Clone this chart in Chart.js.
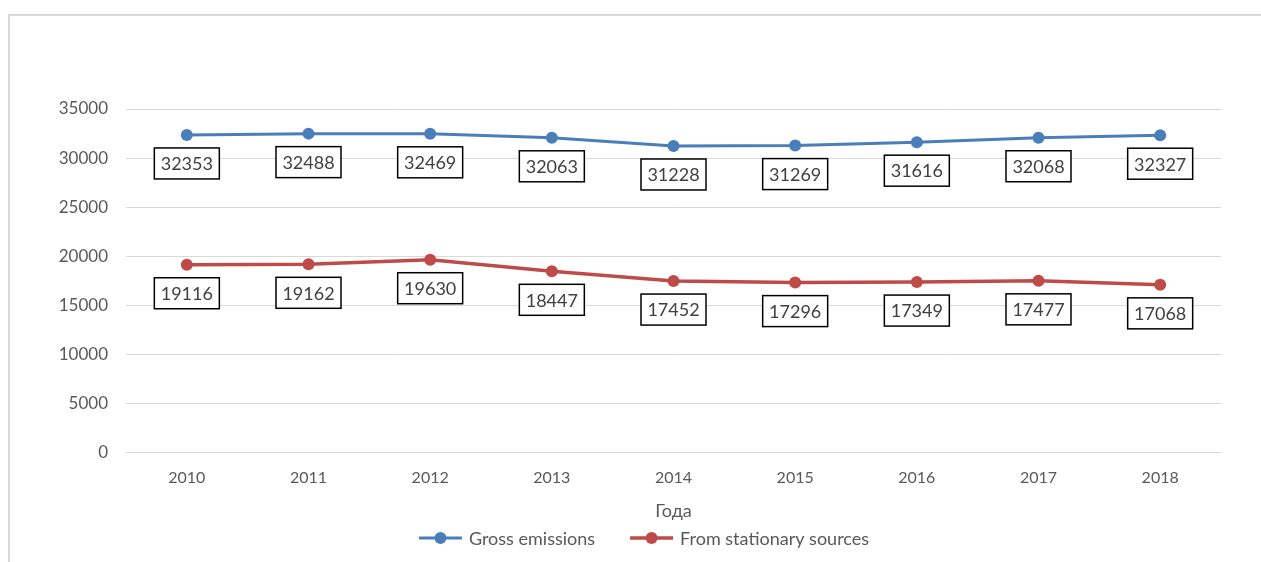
<!DOCTYPE html>
<html>
<head>
<meta charset="utf-8">
<script src="https://cdn.jsdelivr.net/npm/chart.js@4.4.1/dist/chart.umd.min.js"></script>
<style>
  html, body { margin: 0; padding: 0; background: #fff; overflow: hidden; }
  #wrap { position: relative; width: 1261px; height: 562px; }
  #frame {
    position: absolute; left: 8px; top: 14px; width: 1300px; height: 600px;
    border-top: 2px solid #d9d9d9; border-left: 2px solid #d9d9d9;
  }
  canvas { position: absolute; left: 0; top: 0; }
</style>
</head>
<body>
<div id="wrap">
  <div id="frame"></div>
  <canvas id="emissionsChart" width="1261" height="562"></canvas>
</div>
<script>
// Data
const years = ["2010", "2011", "2012", "2013", "2014", "2015", "2016", "2017", "2018"];
const grossEmissions = [32353, 32488, 32469, 32063, 31228, 31269, 31616, 32068, 32327];
const stationarySources = [19116, 19162, 19630, 18447, 17452, 17296, 17349, 17477, 17068];
const seriesNames = ["Gross emissions", "From stationary sources"];
const axisTitle = "Года";

const BLUE = "#4a7ebb";
const RED = "#be4b48";
const FONT = "Lato, 'Open Sans', sans-serif";

// boxed value labels under every point
const boxLabels = {
    id: "boxLabels",
    afterDatasetsDraw(chart) {
        const ctx = chart.ctx;
        ctx.save();
        ctx.font = "18px " + FONT;
        ctx.textAlign = "center";
        ctx.textBaseline = "middle";
        chart.data.datasets.forEach((ds, i) => {
            const meta = chart.getDatasetMeta(i);
            meta.data.forEach((pt, j) => {
                const w = 65, h = 31;
                const x = pt.x - w / 2;
                const y = pt.y + 13;
                ctx.fillStyle = "#fff";
                ctx.fillRect(x, y, w, h);
                ctx.strokeStyle = "#000";
                ctx.lineWidth = 1.5;
                ctx.strokeRect(x, y, w, h);
                ctx.fillStyle = "#404040";
                ctx.fillText(String(ds.data[j]), pt.x, y + h / 2 + 1);
            });
        });
        ctx.restore();
    }
};

// Excel-like legend: line with a dot, then the name
const lineLegend = {
    id: "lineLegend",
    afterDraw(chart) {
        const ctx = chart.ctx;
        const cy = 538, centerX = 644;
        const iconW = 43, textGap = 7, itemGap = 35;
        ctx.save();
        ctx.font = "18px " + FONT;
        const widths = chart.data.datasets.map(ds => ctx.measureText(ds.label).width);
        const total = widths.reduce((a, w) => a + iconW + textGap + w, 0) + itemGap * (widths.length - 1);
        let x = centerX - total / 2;
        chart.data.datasets.forEach((ds, i) => {
            ctx.strokeStyle = ds.borderColor;
            ctx.lineWidth = ds.borderWidth;
            ctx.beginPath();
            ctx.moveTo(x, cy);
            ctx.lineTo(x + iconW, cy);
            ctx.stroke();
            ctx.fillStyle = ds.borderColor;
            ctx.beginPath();
            ctx.arc(x + iconW / 2, cy, 6, 0, Math.PI * 2);
            ctx.fill();
            ctx.fillStyle = "#595959";
            ctx.textAlign = "left";
            ctx.textBaseline = "middle";
            ctx.fillText(ds.label, x + iconW + textGap, cy + 1);
            x += iconW + textGap + widths[i] + itemGap;
        });
        ctx.restore();
    }
};

new Chart(document.getElementById("emissionsChart"), {
    type: "line",
    data: {
        labels: years,
        datasets: [
            {
                label: seriesNames[0],
                data: grossEmissions,
                borderColor: BLUE,
                backgroundColor: BLUE,
                borderWidth: 3,
                pointRadius: 6,
                pointHoverRadius: 6,
                pointBorderWidth: 0
            },
            {
                label: seriesNames[1],
                data: stationarySources,
                borderColor: RED,
                backgroundColor: RED,
                borderWidth: 3.5,
                pointRadius: 6,
                pointHoverRadius: 6,
                pointBorderWidth: 0
            }
        ]
    },
    options: {
        responsive: false,
        animation: false,
        layout: { padding: { top: 109, right: 40, left: 0, bottom: 40 } },
        scales: {
            x: {
                offset: true,
                grid: { display: false, drawTicks: false },
                border: { display: false },
                ticks: { color: "#595959", font: { family: FONT, size: 16 }, padding: 16 },
                title: {
                    display: true,
                    text: axisTitle,
                    color: "#595959",
                    font: { family: FONT, size: 18 },
                    padding: { top: -3, bottom: 0 }
                }
            },
            y: {
                min: 0,
                max: 35000,
                afterFit: s => { s.width = 126; },
                grid: { color: "#d9d9d9", lineWidth: 1, drawTicks: false },
                border: { display: false },
                ticks: {
                    stepSize: 5000,
                    color: "#595959",
                    font: { family: FONT, size: 17 },
                    padding: 18,
                    callback: v => String(v)
                }
            }
        },
        plugins: {
            legend: { display: false },
            tooltip: { enabled: false }
        }
    },
    plugins: [boxLabels, lineLegend]
});
</script>
</body>
</html>
